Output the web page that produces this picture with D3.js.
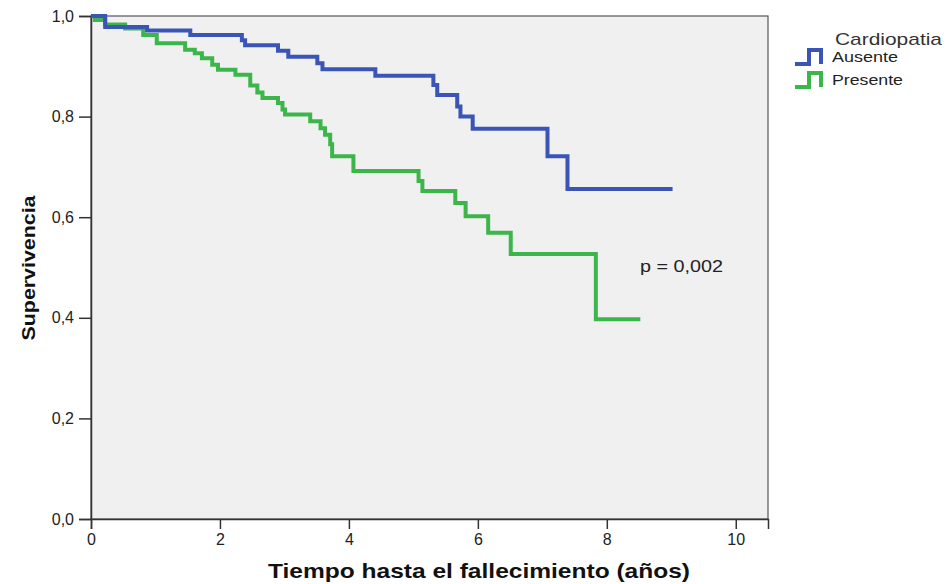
<!DOCTYPE html>
<meta charset="utf-8">
<script src="https://d3js.org/d3.v7.min.js"></script>
<style>
  body { margin: 0; background: #fff; }
  text { font-family: "Liberation Sans", Arial, sans-serif; }
</style>
<div id="chart"></div>
<script>

// Kaplan-Meier steps: time (years) where survival drops, and survival after the drop
var ausenteTimes = [0, 0.22, 0.87, 1.54, 2.34, 2.39, 2.90, 3.06, 3.51, 3.59, 4.41, 5.31, 5.37, 5.68, 5.73, 5.92, 7.08, 7.39];
var ausenteSurv  = [1.0, 0.978, 0.971, 0.962, 0.952, 0.942, 0.931, 0.919, 0.906, 0.894, 0.881, 0.863, 0.843, 0.820, 0.800, 0.776, 0.721, 0.656];
var ausenteEnd = 9.02;

var presenteTimes = [0, 0.06, 0.22, 0.53, 0.81, 1.02, 1.46, 1.61, 1.72, 1.88, 1.97, 2.24, 2.47, 2.58, 2.66, 2.90, 2.97, 3.01, 3.40, 3.56, 3.63, 3.71, 3.74, 4.07, 5.08, 5.14, 5.65, 5.81, 6.16, 6.51, 7.83];
var presenteSurv  = [1.0, 0.992, 0.983, 0.975, 0.962, 0.946, 0.933, 0.926, 0.916, 0.903, 0.893, 0.883, 0.862, 0.848, 0.837, 0.827, 0.814, 0.804, 0.791, 0.777, 0.764, 0.745, 0.721, 0.692, 0.672, 0.652, 0.628, 0.602, 0.569, 0.527, 0.397];
var presenteEnd = 8.52;

var xTicks = [0, 2, 4, 6, 8, 10];
var yTicks = [0, 0.2, 0.4, 0.6, 0.8, 1.0];

var groups = ["Ausente", "Presente"];
var colors = ["#3a55b6", "#3cb64a"];

var width = 947, height = 584;
var margin = {top: 16, right: 179, bottom: 65, left: 91};

var svg = d3.select("#chart")
  .append("svg")
    .attr("width", width)
    .attr("height", height);

var x = d3.scaleLinear()
  .domain([0, 10.5])
  .range([margin.left, width - margin.right]);

var y = d3.scaleLinear()
  .domain([0, 1])
  .range([height - margin.bottom, margin.top]);

// plot background + frame
svg.append("rect")
  .attr("x", x(0))
  .attr("y", y(1))
  .attr("width", x(10.5) - x(0))
  .attr("height", y(0) - y(1))
  .attr("fill", "#f0f0f0")
  .attr("stroke", "#555")
  .attr("stroke-width", 1.2);

var fmt = function(d) { return d3.format(".1f")(d).replace(".", ","); };

// X axis
var xAxis = svg.append("g")
  .attr("transform", "translate(0," + y(0) + ")")
  .call(d3.axisBottom(x).tickValues(xTicks).tickSize(10).tickPadding(5).tickFormat(d3.format("d")));
xAxis.select(".domain").attr("stroke", "#333").attr("stroke-width", 1.5);
xAxis.selectAll(".tick line").attr("stroke", "#333").attr("stroke-width", 1.5);
xAxis.selectAll("text").attr("font-size", 16).attr("fill", "#222");

// Y axis
var yAxis = svg.append("g")
  .attr("transform", "translate(" + x(0) + ",0)")
  .call(d3.axisLeft(y).tickValues(yTicks).tickSize(12).tickPadding(5).tickFormat(fmt));
yAxis.select(".domain").attr("stroke", "#333").attr("stroke-width", 1.5);
yAxis.selectAll(".tick line").attr("stroke", "#333").attr("stroke-width", 1.5);
yAxis.selectAll("text").attr("font-size", 16).attr("fill", "#222");

// axis titles
svg.append("text")
  .attr("x", 479)
  .attr("y", 578)
  .attr("text-anchor", "middle")
  .attr("font-size", 21)
  .attr("font-weight", "bold")
  .attr("fill", "#111")
  .attr("textLength", 422)
  .attr("lengthAdjust", "spacingAndGlyphs")
  .text("Tiempo hasta el fallecimiento (años)");

svg.append("text")
  .attr("transform", "translate(28,268) rotate(-90)")
  .attr("dy", "0.35em")
  .attr("text-anchor", "middle")
  .attr("font-size", 19)
  .attr("font-weight", "bold")
  .attr("fill", "#111")
  .attr("textLength", 145)
  .attr("lengthAdjust", "spacingAndGlyphs")
  .text("Supervivencia");

// survival curves
function stepPoints(times, surv, end) {
  var pts = times.map(function(t, i) { return [t, surv[i]]; });
  pts.push([end, surv[surv.length - 1]]);
  return pts;
}

var line = d3.line()
  .x(function(d) { return x(d[0]); })
  .y(function(d) { return y(d[1]); })
  .curve(d3.curveStepAfter);

var series = [
  stepPoints(ausenteTimes, ausenteSurv, ausenteEnd),
  stepPoints(presenteTimes, presenteSurv, presenteEnd)
];

// draw Presente first so Ausente sits on top at the start
[1, 0].forEach(function(i) {
  svg.append("path")
    .datum(series[i])
    .attr("d", line)
    .attr("fill", "none")
    .attr("stroke", colors[i])
    .attr("stroke-width", 4);
});

// p value
svg.append("text")
  .attr("x", 640)
  .attr("y", 272)
  .attr("font-size", 16)
  .attr("fill", "#222")
  .attr("textLength", 83)
  .attr("lengthAdjust", "spacingAndGlyphs")
  .text("p = 0,002");

// legend
svg.append("text")
  .attr("x", 835)
  .attr("y", 45)
  .attr("font-size", 17)
  .attr("fill", "#333")
  .attr("textLength", 107)
  .attr("lengthAdjust", "spacingAndGlyphs")
  .text("Cardiopatia");

var legendWidths = [66, 71];
groups.forEach(function(g, i) {
  var top = 50 + i * 23;
  svg.append("path")
    .attr("d", "M795," + (top + 14) + "H809V" + top + "H821V" + (top + 14))
    .attr("fill", "none")
    .attr("stroke", colors[i])
    .attr("stroke-width", 4);
  svg.append("text")
    .attr("x", 832)
    .attr("y", top + 12)
    .attr("font-size", 15)
    .attr("fill", "#222")
    .attr("textLength", legendWidths[i])
    .attr("lengthAdjust", "spacingAndGlyphs")
    .text(g);
});

</script>
